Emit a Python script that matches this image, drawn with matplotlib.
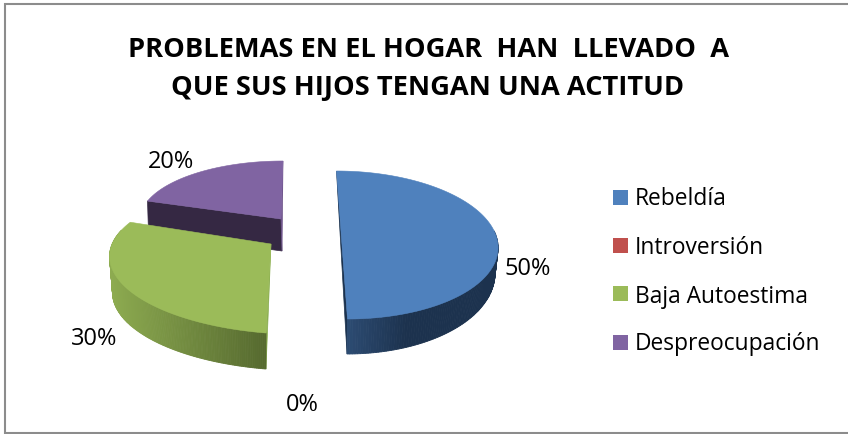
# import
import numpy as np
import matplotlib
matplotlib.use("Agg")
import matplotlib.pyplot as plt
from matplotlib.patches import Rectangle

# data
categories = ["Rebeldía", "Introversión", "Baja Autoestima", "Despreocupación"]
values = [50, 0, 30, 20]
title_lines = ["PROBLEMAS EN EL HOGAR  HAN  LLEVADO  A", "QUE SUS HIJOS TENGAN UNA ACTITUD"]
colors = ["#4f81bd", "#c0504d", "#9bbb59", "#8064a2"]

# exploded slices: apex, top ellipse (cx, cy, rx, ry, skew, tilt), bottom ellipse (same)
geometry = {
    0: ((342, 246), (342, 246, 156, 74, -5.5, 0), (343, 272, 152, 83, -4, 0)),
    2: ((271, 245), (296, 260, 184, 74, 30, 14.6), (296, 296, 181, 74, 30, 14.6)),
    3: ((281, 220), (281, 220, 141, 58, 2, 0), (282, 252, 141, 58, 2, 0)),
}
wall_colors = {0: ("#2d4c73", "#1c324e"), 2: ("#8dab50", "#566a2f")}

def ring(params, theta):
    cx, cy, rx, ry, skew, tilt = params
    x = cx + rx * np.sin(theta) + skew * np.cos(theta)
    y = cy - ry * np.cos(theta) + tilt * np.sin(theta)
    return x, y

def shade(c1, c2, t):
    a = np.array(matplotlib.colors.to_rgb(c1))
    b = np.array(matplotlib.colors.to_rgb(c2))
    return a + (b - a) * t

# figure preparation, axes in image pixels
fig = plt.figure(figsize=(8.48, 4.35), dpi=100)
ax = fig.add_axes([0, 0, 1, 1])
ax.set_xlim(0, 848)
ax.set_ylim(435, 0)
ax.axis("off")
ax.add_patch(Rectangle((5, 4.5), 850, 429, fc="white", ec="#8c8c8c", lw=1.5))

# slice angles from the values, clockwise from 12 o'clock
edges = np.radians(np.cumsum([0] + values) * 3.6)

# purple goes first, then blue and green on top
for i in [3, 0, 2]:
    apex, top, bottom = geometry[i]
    theta = np.linspace(edges[i], edges[i + 1], 181)
    x0, y0 = ring(top, theta[0])
    x1, y1 = ring(top, theta[-1])
    bx0, by0 = ring(bottom, theta[0])

    if i == 3:
        # cut face seen from the front
        ax.fill([x0, apex[0], apex[0] + 1, bx0], [y0, apex[1], bottom[1], by0], color="#352843", lw=0.5)
        ax.fill([x1, apex[0], apex[0] + 1], [y1, apex[1], bottom[1]], color="#6d5389", lw=0.5)
    if i == 0:
        ax.fill([x0, x1, ring(bottom, np.pi)[0]], [y0, y1, ring(bottom, np.pi)[1]], color="#1b324e", lw=0.5)
    if i == 2:
        ax.fill([apex[0], x0, bx0], [apex[1], y0, by0], color="#8aae50", lw=0.5)

    # outer wall with a left to right gradient
    if i in wall_colors:
        wall = theta[np.cos(theta) < 0.2]
        xs, ys = ring(top, wall)
        bxs, bys = ring(bottom, wall)
        left, right = xs.min(), xs.max()
        for k in range(len(wall) - 1):
            t = (xs[k] - left) / (right - left)
            if i == 0:
                t = min(1, t * 2.5)
            ax.fill([xs[k], xs[k + 1], bxs[k + 1], bxs[k]], [ys[k], ys[k + 1], bys[k + 1], bys[k]],
                    color=shade(*wall_colors[i], t), lw=0.6)

    # top face
    xs, ys = ring(top, theta)
    ax.fill(np.r_[apex[0], xs], np.r_[apex[1], ys], color=colors[i], lw=0.4)

# percentage labels
label_pos = {0: (528, 275), 1: (302, 411), 2: (94, 345), 3: (171, 168)}
for i, v in enumerate(values):
    ax.text(*label_pos[i], f"{v}%", fontsize=17, family="Open Sans", ha="center", va="baseline", color="black")

# legend
legend_y = [198, 246, 294, 343]
legend_base = [205, 254, 303, 350]
for name, c, y, b in zip(categories, colors, legend_y, legend_base):
    ax.add_patch(Rectangle((613, y - 7.5), 15, 15, fc=c, ec="none"))
    ax.text(635, b, name, fontsize=16.4, family="Open Sans", ha="left", va="baseline", color="black")

# title
ax.text(428, 57, title_lines[0], fontsize=19.6, fontweight="bold", family="Open Sans", ha="center", va="baseline")
ax.text(428, 95, title_lines[1], fontsize=19.6, fontweight="bold", family="Open Sans", ha="center", va="baseline")

fig.savefig("out.png", dpi=100)
